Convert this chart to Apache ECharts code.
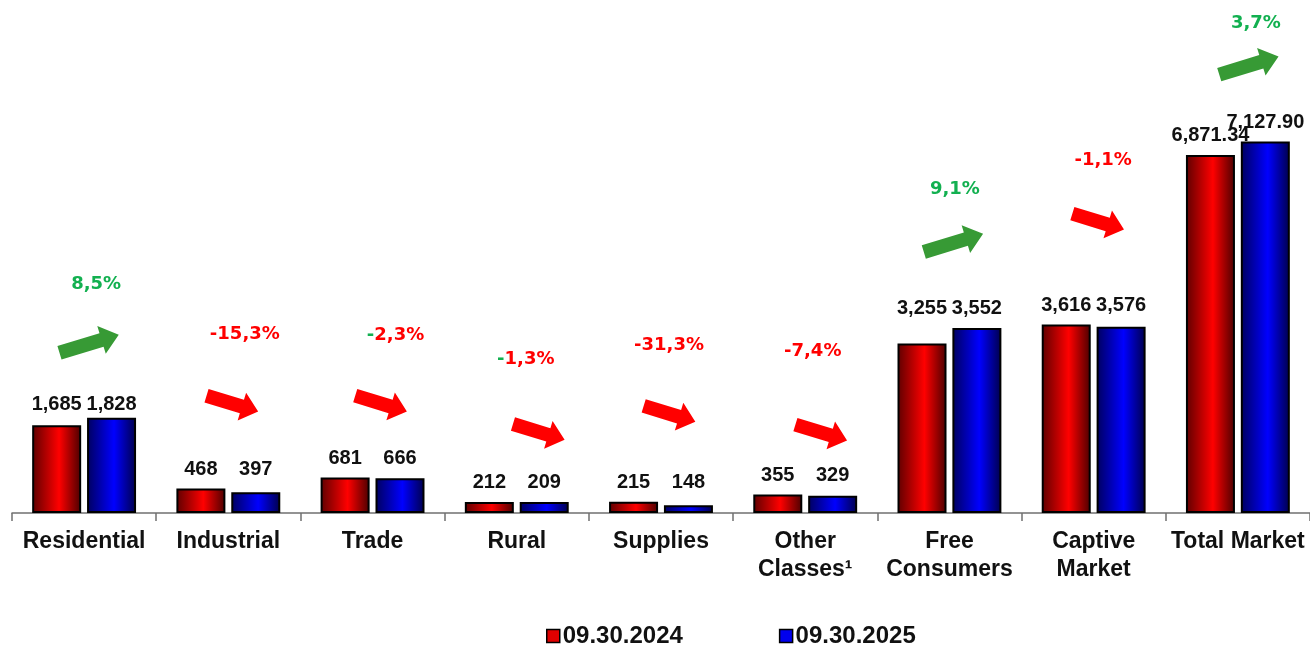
<!DOCTYPE html>
<html>
<head>
<meta charset="utf-8">
<script src="https://cdn.jsdelivr.net/npm/echarts@6/dist/echarts.min.js"></script>
<style>
html,body{margin:0;padding:0;background:#fff;}
#chart{width:1310px;height:646px;}
</style>
</head>
<body>
<div id="chart"></div>
<script>
// ---------------- DATA ----------------
var categories = ['Residential', 'Industrial', 'Trade', 'Rural', 'Supplies', 'Other\nClasses\u00b9', 'Free\nConsumers', 'Captive\nMarket', 'Total Market'];
var seriesNames = ['09.30.2024', '09.30.2025'];
var values2024 = [1685, 468, 681, 212, 215, 355, 3255, 3616, 6871.34];
var values2025 = [1828, 397, 666, 209, 148, 329, 3552, 3576, 7127.90];
var valueDecimals = [0, 0, 0, 0, 0, 0, 0, 0, 2];
var changeLabels = ['8,5%', '-15,3%', '-2,3%', '-1,3%', '-31,3%', '-7,4%', '9,1%', '-1,1%', '3,7%'];

// ---------------- LAYOUT / STYLE ----------------
var GRID_TOP = 44, GRID_BOTTOM = 133, Y_MAX = 9000, CHART_H = 646;
var pxPerUnit = (CHART_H - GRID_TOP - GRID_BOTTOM) / Y_MAX;
var alignPairLabels = [true, true, true, true, true, true, true, true, false];
// arrow centre: dx from category centre, dy above taller bar (px)
var arrowDx = [5, 4, 8.5, 22, 8.5, 16, 4, 4.5, 11];
var arrowDy = [74, 85, 74, 70, 88, 62, 85, 103, 76];
// change label centre relative to arrow centre
var labelDx = [7, 12.5, 14.5, -13, -0.5, -8.5, 1.5, 5, 7];
var labelDy = [59, 69, 68, 73, 68, 81, 54, 61, 42];
var greenMinus = [false, false, true, true, false, false, false, false, false];
var labelExtraLift = [6, 0, 0, 0, 0, 0, 0, 0, 0];

var RED = '#ff0000', GREEN_TXT = '#12b050', GREEN_ARROW = '#379a35';

function fmt(v, d) {
  return v.toLocaleString('en-US', {minimumFractionDigits: d, maximumFractionDigits: d});
}

function barData(vals, other) {
  return vals.map(function (v, i) {
    var item = {value: v};
    var off = labelExtraLift[i];
    if (alignPairLabels[i] && other[i] > v) {
      item.label = {offset: [0, -(other[i] - v) * pxPerUnit + off]};
    } else if (off) {
      item.label = {offset: [0, off]};
    }
    return item;
  });
}

var redGrad = new echarts.graphic.LinearGradient(0, 0, 1, 0, [
  {offset: 0, color: '#5e0000'}, {offset: 0.55, color: '#ff0000'}, {offset: 1, color: '#4a0000'}
]);
var blueGrad = new echarts.graphic.LinearGradient(0, 0, 1, 0, [
  {offset: 0, color: '#00005e'}, {offset: 0.55, color: '#0000ff'}, {offset: 1, color: '#00004a'}
]);

var valueLabel = {
  show: true, position: 'top', distance: 9,
  fontFamily: '"Liberation Sans", Arial, sans-serif', fontWeight: 'bold', fontSize: 20, color: '#111'
};

function arrowPoints(cx, cy, up) {
  var L = up ? 62 : 54, t = 7, h = 14.5, hl = up ? 18 : 17;
  var ang = (up ? -17 : 17) * Math.PI / 180;
  var pts = [[-L / 2, -t], [L / 2 - hl, -t], [L / 2 - hl, -h], [L / 2, 0], [L / 2 - hl, h], [L / 2 - hl, t], [-L / 2, t]];
  var c = Math.cos(ang), s = Math.sin(ang);
  return pts.map(function (p) { return [cx + p[0] * c - p[1] * s, cy + p[0] * s + p[1] * c]; });
}

var chart = echarts.init(document.getElementById('chart'), null, {renderer: 'canvas'});
chart.setOption({
  animation: false,
  backgroundColor: '#fff',
  grid: {left: 12, right: 0, top: GRID_TOP, bottom: GRID_BOTTOM, containLabel: false},
  legend: {
    left: 541, top: 619,
    itemWidth: 13, itemHeight: 13, itemGap: 96,
    textStyle: {fontFamily: '"Liberation Sans", Arial, sans-serif', fontWeight: 'bold', fontSize: 24, color: '#111', padding: [0, 0, 0, -2]},
    data: [
      {name: seriesNames[0], icon: 'rect', itemStyle: {color: '#e00000', borderColor: '#000', borderWidth: 1.5}},
      {name: seriesNames[1], icon: 'rect', itemStyle: {color: '#0000ee', borderColor: '#000', borderWidth: 1.5}}
    ]
  },
  xAxis: {
    type: 'category', data: categories,
    axisLine: {lineStyle: {color: '#707070', width: 1.5}},
    axisTick: {show: true, length: 8, lineStyle: {color: '#707070', width: 1.5}},
    axisLabel: {
      interval: 0, margin: 15, lineHeight: 28,
      fontFamily: '"Liberation Sans", Arial, sans-serif', fontWeight: 'bold', fontSize: 23, color: '#111'
    }
  },
  yAxis: {type: 'value', min: 0, max: Y_MAX, show: false, splitLine: {show: false}},
  series: [
    {
      name: seriesNames[0], type: 'bar', barWidth: 49, barGap: '12%', z: 3,
      itemStyle: {color: redGrad, borderColor: '#000', borderWidth: 2},
      label: Object.assign({}, valueLabel, {formatter: function (p) { return fmt(p.value, valueDecimals[p.dataIndex]); }}),
      data: barData(values2024, values2025)
    },
    {
      name: seriesNames[1], type: 'bar', barWidth: 49, z: 2,
      itemStyle: {color: blueGrad, borderColor: '#000', borderWidth: 2},
      label: Object.assign({}, valueLabel, {formatter: function (p) { return fmt(p.value, valueDecimals[p.dataIndex]); }}),
      data: barData(values2025, values2024)
    },
    {
      name: 'change', type: 'custom', z: 5, clip: false, silent: true,
      data: categories.map(function (c, i) { return [i, Math.max(values2024[i], values2025[i])]; }),
      renderItem: function (params, api) {
        var i = api.value(0);
        var top = api.coord([i, api.value(1)]);
        var ax = top[0] + arrowDx[i], ay = top[1] - arrowDy[i];
        var txt = changeLabels[i];
        var up = txt.charAt(0) !== '-';
        var richText;
        if (greenMinus[i]) richText = '{g|-}{r|' + txt.slice(1) + '}';
        else richText = up ? '{g|' + txt + '}' : '{r|' + txt + '}';
        var f = '"DejaVu Sans", sans-serif';
        return {
          type: 'group',
          children: [
            {type: 'polygon', shape: {points: arrowPoints(ax, ay, up)}, style: {fill: up ? GREEN_ARROW : RED}},
            {
              type: 'text', x: ax + labelDx[i], y: ay - labelDy[i],
              style: {
                text: richText, align: 'center', verticalAlign: 'middle',
                rich: {
                  g: {fill: GREEN_TXT, fontFamily: f, fontWeight: 'bold', fontSize: 18},
                  r: {fill: RED, fontFamily: f, fontWeight: 'bold', fontSize: 18}
                }
              }
            }
          ]
        };
      }
    }
  ]
});
</script>
</body>
</html>
